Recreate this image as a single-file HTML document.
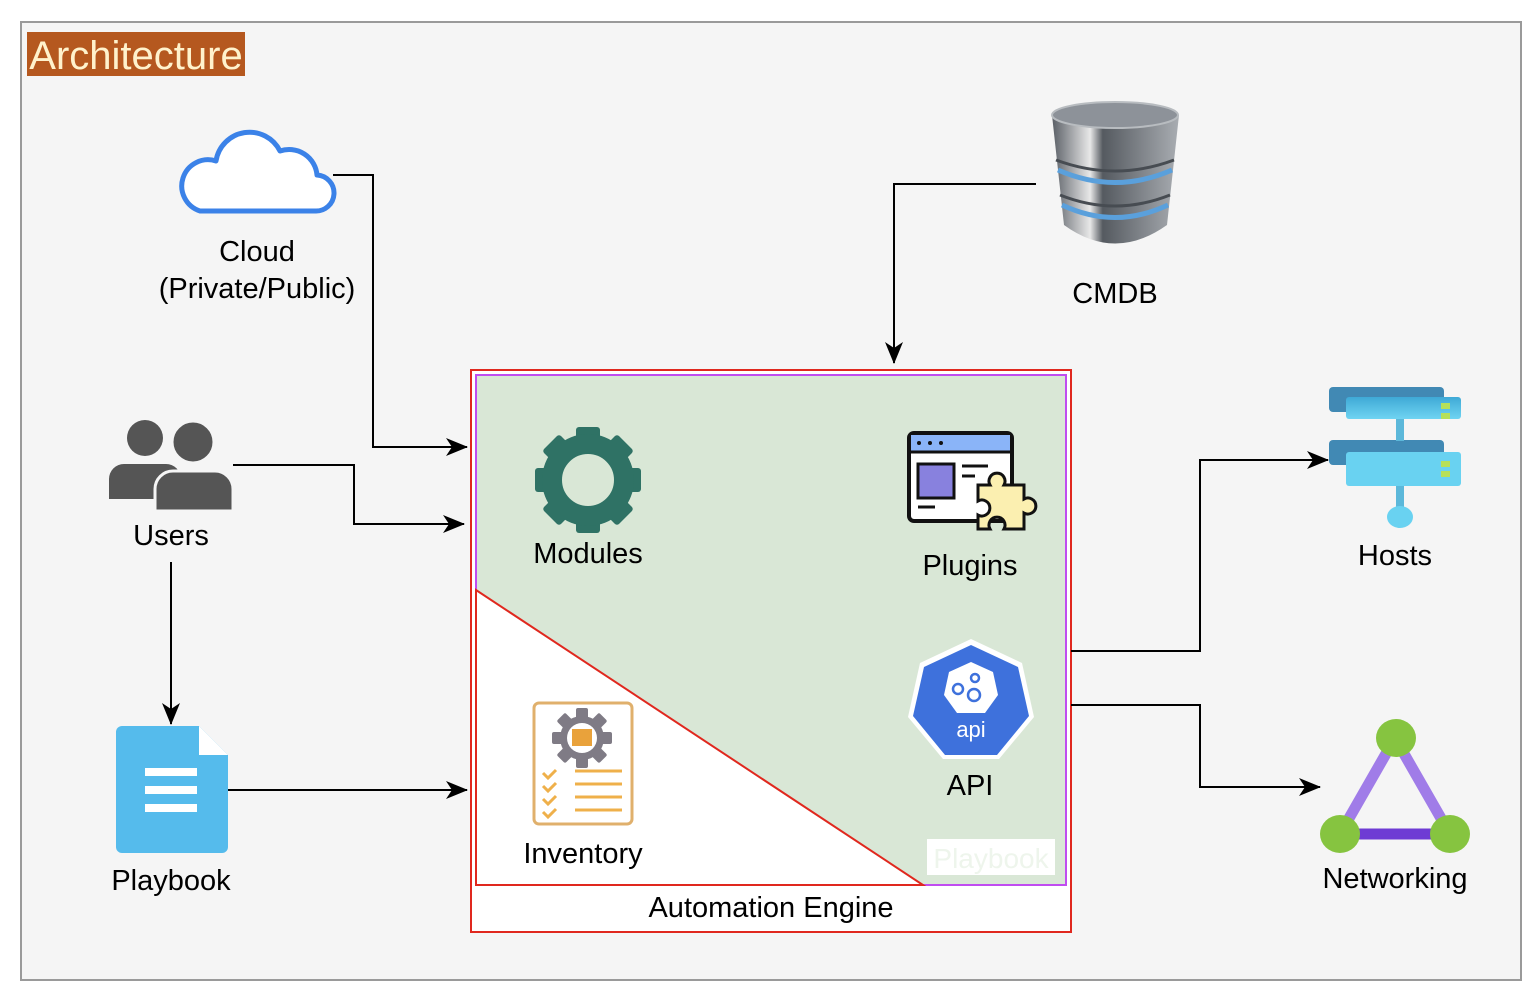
<!DOCTYPE html>
<html><head><meta charset="utf-8"><style>
body{margin:0;background:#fff;}
svg{display:block;font-family:"Liberation Sans",sans-serif;}
</style></head><body>
<svg width="1540" height="1006" viewBox="0 0 1540 1006" xmlns="http://www.w3.org/2000/svg">
<defs>
<marker id="ar" markerWidth="22" markerHeight="18" refX="21" refY="9" orient="auto" markerUnits="userSpaceOnUse" viewBox="0 0 22 18">
<path d="M0,0 L22,9 L0,18 L6,9 Z" fill="#000"/></marker>
<linearGradient id="db" x1="0" x2="1"><stop offset="0" stop-color="#5a5f66"/><stop offset="0.3" stop-color="#e8e8e8"/><stop offset="0.4" stop-color="#555a60"/><stop offset="1" stop-color="#a9adb2"/></linearGradient>
<linearGradient id="srv" x1="0" y1="0" x2="0" y2="1"><stop offset="0" stop-color="#3fa9d6"/><stop offset="1" stop-color="#6fd4f2"/></linearGradient>
</defs>
<rect x="21" y="22" width="1500" height="958" fill="#f5f5f5" stroke="#9a9a9a" stroke-width="2"/>
<rect x="27" y="32" width="218" height="44" fill="#b5581f"/>
<text x="136" y="69" font-size="40" fill="#fff2cc" text-anchor="middle">Architecture</text>

<rect x="471" y="370" width="600" height="562" fill="#fff" stroke="#e0281e" stroke-width="2"/>
<rect x="476" y="375" width="590" height="510" fill="#d9e7d6" stroke="#c04cf0" stroke-width="2"/>
<path d="M476,590 L476,885 L923,885 Z" fill="#fff" stroke="#e0281e" stroke-width="2"/>
<rect x="927" y="839" width="128" height="36" fill="#fff"/>
<text x="991" y="868" font-size="28" fill="#eef5ec" text-anchor="middle">Playbook</text>
<text x="771" y="917" font-size="29" text-anchor="middle">Automation Engine</text>

<g transform="translate(588,480)" fill="#2f7265">
<rect x="-12" y="-53" width="24" height="22" rx="3"/>
<rect x="-12" y="-53" width="24" height="22" rx="3" transform="rotate(45)"/>
<rect x="-12" y="-53" width="24" height="22" rx="3" transform="rotate(90)"/>
<rect x="-12" y="-53" width="24" height="22" rx="3" transform="rotate(135)"/>
<rect x="-12" y="-53" width="24" height="22" rx="3" transform="rotate(180)"/>
<rect x="-12" y="-53" width="24" height="22" rx="3" transform="rotate(225)"/>
<rect x="-12" y="-53" width="24" height="22" rx="3" transform="rotate(270)"/>
<rect x="-12" y="-53" width="24" height="22" rx="3" transform="rotate(315)"/>
<circle r="36" fill="none" stroke="#2f7265" stroke-width="20"/>
</g>
<text x="588" y="563" font-size="29" text-anchor="middle">Modules</text>

<rect x="909" y="433" width="103" height="88" rx="5" fill="#fff" stroke="#111" stroke-width="4"/>
<rect x="911" y="435" width="99" height="16" fill="#8ab4f8"/>
<line x1="909" y1="452" x2="1012" y2="452" stroke="#111" stroke-width="3"/>
<circle cx="919" cy="443" r="2" fill="#111"/><circle cx="930" cy="443" r="2" fill="#111"/><circle cx="941" cy="443" r="2" fill="#111"/>
<rect x="918" y="464" width="36" height="34" fill="#8881de" stroke="#111" stroke-width="3"/>
<line x1="962" y1="466" x2="988" y2="466" stroke="#111" stroke-width="3"/>
<line x1="962" y1="476" x2="975" y2="476" stroke="#111" stroke-width="3"/>
<line x1="918" y1="507" x2="935" y2="507" stroke="#111" stroke-width="3"/>
<path d="M978,485 h12 a8,8 0 1 1 14,0 h20 v14 a8,8 0 1 1 0,14 v16 h-20 a8,8 0 1 0 -14,0 h-12 v-14 a8,8 0 1 0 0,-14 z" fill="#fbefb0" stroke="#111" stroke-width="3"/>
<text x="970" y="575" font-size="29" text-anchor="middle">Plugins</text>

<polygon points="971,639 1022,663 1034,717 999,759 943,759 908,717 920,663" fill="#fff"/>
<polygon points="971,645 1018,667 1029,716 997,755 945,755 913,716 924,667" fill="#3e71dc"/>
<polygon points="971,662 993,672 998,695 985,713 957,713 944,695 949,672" fill="#fff"/>
<g fill="none" stroke="#3e71dc" stroke-width="2.5"><circle cx="958" cy="689" r="5"/><circle cx="975" cy="678" r="4"/><circle cx="974" cy="695" r="6"/></g>
<text x="971" y="737" font-size="22" fill="#fff" text-anchor="middle">api</text>
<text x="970" y="795" font-size="29" text-anchor="middle">API</text>

<rect x="534" y="703" width="98" height="121" rx="5" fill="#fff" stroke="#e0b06c" stroke-width="3"/>
<g transform="translate(582,738)" fill="#7f7b85">
<rect x="-6" y="-30" width="12" height="60" rx="2"/>
<rect x="-6" y="-30" width="12" height="60" rx="2" transform="rotate(45)"/>
<rect x="-6" y="-30" width="12" height="60" rx="2" transform="rotate(90)"/>
<rect x="-6" y="-30" width="12" height="60" rx="2" transform="rotate(135)"/>
<circle r="22"/><circle r="15" fill="#fff"/>
<rect x="-10" y="-9" width="20" height="17" fill="#e9a23b"/>
</g>
<g stroke="#efb04a" stroke-width="3" fill="none">
<path d="M543,773 l5,5 l8,-8 M543,786 l5,5 l8,-8 M543,799 l5,5 l8,-8 M543,812 l5,5 l8,-8"/>
<path d="M575,771 h47 M575,784 h47 M575,797 h47 M575,810 h47"/>
</g>
<text x="583" y="863" font-size="29" text-anchor="middle">Inventory</text>

<path d="M200,211 h115 a18,18 0 0 0 2,-36 a28,28 0 0 0 -37,-24 a34,34 0 0 0 -64,10 a25,25 0 0 0 -16,50 z" fill="#fff" stroke="#3b82e8" stroke-width="5" stroke-linejoin="round"/>
<text x="257" y="261" font-size="29" text-anchor="middle">Cloud</text>
<text x="257" y="298" font-size="29" text-anchor="middle">(Private/Public)</text>

<g fill="#555">
<circle cx="145" cy="438" r="18"/>
<path d="M109,499 v-20 a15,15 0 0 1 15,-15 h42 a15,15 0 0 1 15,15 v20 z"/>
<circle cx="193" cy="442" r="21" stroke="#f5f5f5" stroke-width="3"/>
<path d="M155,511 v-22 a18,18 0 0 1 18,-18 h42 a18,18 0 0 1 18,18 v22 z" stroke="#f5f5f5" stroke-width="3"/>
</g>
<text x="171" y="545" font-size="29" text-anchor="middle">Users</text>

<path d="M122,726 h77 l29,29 v92 a6,6 0 0 1 -6,6 h-100 a6,6 0 0 1 -6,-6 v-115 a6,6 0 0 1 6,-6 z" fill="#55bbec"/>
<path d="M199,726 v29 h29 z" fill="#fff"/>
<g fill="#fff"><rect x="145" y="768" width="52" height="8"/><rect x="145" y="786" width="52" height="8"/><rect x="145" y="804" width="52" height="8"/></g>
<text x="171" y="890" font-size="29" text-anchor="middle">Playbook</text>

<path d="M1052,115 Q1115,95 1179,115 L1167,225 Q1115,262 1064,225 Z" fill="url(#db)"/>
<ellipse cx="1115" cy="115" rx="63" ry="13" fill="#8d9299" stroke="#b8bcc0" stroke-width="2"/>
<path d="M1056,160 Q1115,182 1174,160" stroke="#474c52" stroke-width="3" fill="none"/>
<path d="M1060,195 Q1115,217 1170,195" stroke="#474c52" stroke-width="3" fill="none"/>
<path d="M1058,170 Q1115,195 1172,170" stroke="#5aa0dc" stroke-width="5" fill="none"/>
<path d="M1062,205 Q1115,230 1168,205" stroke="#5aa0dc" stroke-width="5" fill="none"/>
<text x="1115" y="303" font-size="29" text-anchor="middle">CMDB</text>

<rect x="1329" y="387" width="115" height="25" rx="4" fill="#4189b4"/>
<rect x="1346" y="397" width="115" height="22" rx="3" fill="url(#srv)"/>
<rect x="1329" y="440" width="115" height="25" rx="4" fill="#4189b4"/>
<rect x="1346" y="452" width="115" height="34" rx="3" fill="#69d2f1"/>
<rect x="1396" y="419" width="8" height="22" fill="#5cb8da"/>
<rect x="1441" y="403" width="9" height="6" fill="#b6e05a"/><rect x="1441" y="413" width="9" height="6" fill="#b6e05a"/>
<rect x="1441" y="461" width="9" height="6" fill="#b6e05a"/><rect x="1441" y="471" width="9" height="6" fill="#b6e05a"/>
<rect x="1396" y="486" width="8" height="22" fill="#5cb8da"/>
<ellipse cx="1400" cy="517" rx="13" ry="11" fill="#69d2f1"/>
<text x="1395" y="565" font-size="29" text-anchor="middle">Hosts</text>

<path d="M1395,738 L1340,834 L1450,834 Z" fill="none" stroke="#a07ce8" stroke-width="11"/>
<line x1="1340" y1="834" x2="1450" y2="834" stroke="#6e3bd4" stroke-width="11"/>
<ellipse cx="1396" cy="738" rx="20" ry="19" fill="#86c440"/>
<ellipse cx="1340" cy="834" rx="20" ry="19" fill="#86c440"/>
<ellipse cx="1450" cy="834" rx="20" ry="19" fill="#86c440"/>
<text x="1395" y="888" font-size="29" text-anchor="middle">Networking</text>

<g fill="none" stroke="#000" stroke-width="2">
<path d="M333,175 H373 V447 H467" marker-end="url(#ar)"/>
<path d="M233,465 H354 V524 H464" marker-end="url(#ar)"/>
<path d="M171,562 V724" marker-end="url(#ar)"/>
<path d="M228,790 H467" marker-end="url(#ar)"/>
<path d="M1036,184 H894 V363" marker-end="url(#ar)"/>
<path d="M1071,651 H1200 V460 H1328" marker-end="url(#ar)"/>
<path d="M1071,705 H1200 V787 H1320" marker-end="url(#ar)"/>
</g>
</svg>
</body></html>
